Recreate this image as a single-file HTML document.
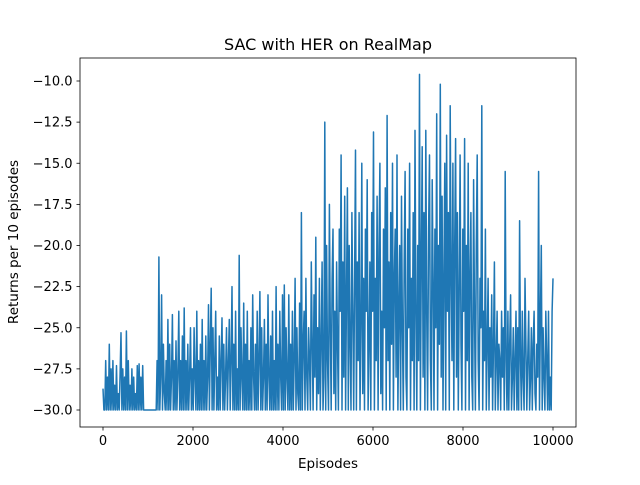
<!DOCTYPE html>
<html><head><meta charset="utf-8"><style>
body{margin:0;background:#fff;font-family:"Liberation Sans","DejaVu Sans",sans-serif;}
svg text{font-family:"DejaVu Sans","Liberation Sans",sans-serif;}
</style></head><body>
<svg id="chart" width="640" height="480" xmlns="http://www.w3.org/2000/svg">
<rect width="640" height="480" fill="#fff"/>
<text x="328" y="50" font-size="16" text-anchor="middle">SAC with HER on RealMap</text>
<g id="xt"></g><g id="yt"></g>
<polyline id="line" fill="none" stroke="#1f77b4" stroke-width="1.5" stroke-linejoin="round"/>
<rect x="80" y="58" width="496" height="369" fill="none" stroke="#000" stroke-width="0.8"/>
<text x="328" y="468" font-size="13.5" text-anchor="middle">Episodes</text>
<text transform="translate(18,242) rotate(-90)" font-size="13.5" text-anchor="middle">Returns per 10 episodes</text>
</svg>
<script>
const xTicks=[0,2000,4000,6000,8000,10000];
const yTicks=[-30,-27.5,-25,-22.5,-20,-17.5,-15,-12.5,-10];
const yTickLabels=["−30.0","−27.5","−25.0","−22.5","−20.0","−17.5","−15.0","−12.5","−10.0"];
const returns=[
-28.7,-30,-30,-27,-30,-28,-30,-26,-30,-27.5,
-30,-27,-30,-28.5,-30,-27.3,-30,-29,-30,-27.8,
-25.3,-30,-27.5,-30,-28,-30,-25.2,-30,-27,-30,
-28.5,-30,-27.5,-30,-28,-30,-29,-30,-27.3,-30,
-27.2,-30,-28,-30,-27.3,-30,-30,-30,-30,-30,
-30,-30,-30,-30,-30,-30,-30,-30,-30,-30,
-27,-30,-20.7,-30,-28,-23,-30,-26,-29,-30,
-27,-30,-24.5,-30,-26,-30,-28,-24.2,-30,-27,
-30,-25.8,-30,-28,-24,-30,-27,-30,-25.5,-30,
-23.8,-30,-27,-30,-26,-30,-28,-25,-30,-27.5,
-30,-25,-28,-30,-24,-30,-27,-30,-26,-30,
-24.5,-30,-27,-30,-25.5,-30,-28,-23.6,-30,-26,
-22.6,-30,-25,-30,-27,-24,-30,-28,-30,-25.5,
-30,-27,-24.4,-30,-26,-30,-28,-25,-30,-27,
-24.5,-30,-27,-22.5,-30,-26,-30,-24,-30,-27.5,
-30,-20.6,-30,-25,-28,-30,-23.5,-30,-26,-30,
-24,-30,-27,-30,-25,-30,-23,-28,-30,-26,
-30,-24,-30,-27,-22.8,-30,-25,-30,-28,-24.5,
-30,-26,-30,-23,-28,-30,-25.5,-30,-24,-30,
-27,-30,-22.5,-30,-26,-30,-24,-28,-30,-23,
-30,-22.4,-30,-25,-28,-30,-23,-30,-26,-30,
-24,-30,-27,-22,-30,-25,-29,-30,-23.5,-30,
-18,-30,-26,-24,-30,-22,-28,-30,-25,-27,
-30,-21,-26,-30,-23,-28,-19.5,-30,-25,-29,
-22,-30,-26,-21,-30,-28,-12.5,-30,-20,-27,
-30,-17.5,-25,-30,-22,-19,-29,-24,-30,-21,
-26,-30,-19,-24,-14.5,-30,-21,-28,-17,-30,
-23,-16.5,-30,-20,-26,-30,-18,-24,-30,-22,
-14.2,-30,-21,-27,-18,-30,-25,-15,-29,-22,
-30,-19,-24,-16,-30,-26,-21,-30,-18,-24,
-13.1,-30,-22,-27,-17,-30,-20,-15,-29,-24,
-30,-19,-25,-16.5,-30,-12.1,-27,-21,-30,-18,
-26,-15,-30,-22,-19,-28,-14.5,-30,-24,-20,
-30,-17,-25,-30,-21,-15.5,-28,-30,-19,-25,
-15,-30,-22,-27,-18,-30,-13,-24,-30,-20,
-27,-9.6,-30,-21,-14,-28,-18,-30,-13,-24,
-30,-19,-14.5,-27,-30,-16,-22,-30,-19,-25,
-12,-30,-20,-26,-10.2,-28,-17,-30,-22,-15,
-30,-13.3,-24,-18,-30,-11.5,-22,-27,-15,-30,
-20,-13.5,-28,-18,-30,-23,-14.5,-26,-30,-19,
-24,-13.5,-30,-20,-27,-15,-30,-22,-18,-28,
-30,-16,-24,-30,-20,-14.5,-27,-30,-22,-25,
-11.5,-30,-24,-27,-19,-30,-26,-22,-30,-25,
-28,-23,-30,-26,-21,-30,-27,-24,-30,-26,
-27,-30,-24,-28,-25,-30,-15.5,-27,-30,-24,
-30,-26,-23,-30,-28,-25,-30,-27,-24,-30,
-25,-30,-18.5,-27,-30,-24,-28,-30,-22,-26,
-30,-27,-24,-30,-28,-25,-30,-26,-24,-29,
-30,-26,-28,-15.5,-30,-24.5,-20,-30,-25,-28,
-30,-24,-27,-30,-24,-30,-28,-30,-24,-22];
const xMax=10000;
function X(v){return 103+v*0.045;}
function Y(v){return 410-(v+30)*16.45;}
const NS="http://www.w3.org/2000/svg";
const step=xMax/(returns.length-1);
document.getElementById('line').setAttribute('points',returns.map((r,i)=>X(i*step).toFixed(1)+','+Y(r).toFixed(1)).join(' '));
const xt=document.getElementById('xt'),yt=document.getElementById('yt');
xTicks.forEach(t=>{
 const l=document.createElementNS(NS,'line');
 l.setAttribute('x1',X(t));l.setAttribute('x2',X(t));l.setAttribute('y1',427);l.setAttribute('y2',430.5);l.setAttribute('stroke','#000');l.setAttribute('stroke-width','0.8');
 
 
 xt.appendChild(l);
 const s=document.createElementNS(NS,'text');
 s.setAttribute('x',X(t));s.setAttribute('y',445);s.setAttribute('font-size','13');s.setAttribute('text-anchor','middle');s.textContent=t;
 
 
 xt.appendChild(s);
});
yTicks.forEach((t,i)=>{
 const l=document.createElementNS(NS,'line');
 l.setAttribute('x1',76.5);l.setAttribute('x2',80);l.setAttribute('y1',Y(t));l.setAttribute('y2',Y(t));l.setAttribute('stroke','#000');l.setAttribute('stroke-width','0.8');
 
 
 yt.appendChild(l);
 const s=document.createElementNS(NS,'text');
 s.setAttribute('x',72.5);s.setAttribute('y',Y(t)+4.5);s.setAttribute('font-size','13');s.setAttribute('text-anchor','end');s.textContent=yTickLabels[i];
 
 
 yt.appendChild(s);
});
</script>
</body></html>
